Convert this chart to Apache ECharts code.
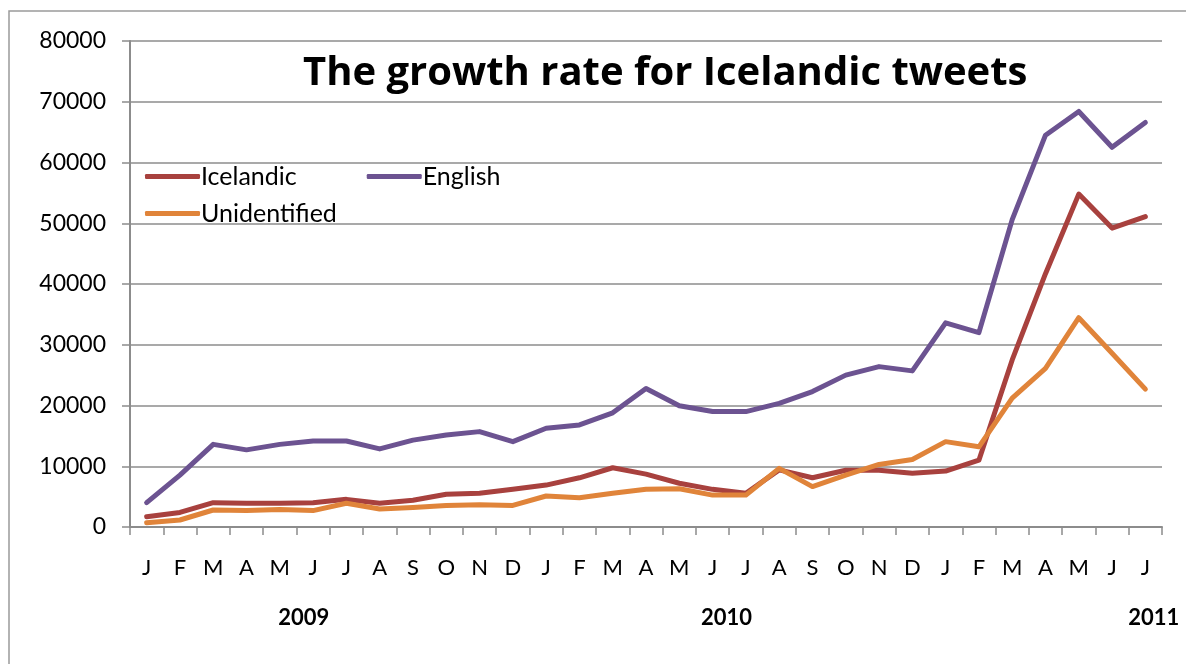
<!DOCTYPE html>
<html>
<head>
<meta charset="utf-8">
<style>
  html, body { margin: 0; padding: 0; background: #fff; }
  #chart { width: 1186px; height: 664px; }
</style>
<script src="https://cdn.jsdelivr.net/npm/echarts@6/dist/echarts.min.js"></script>
</head>
<body>
<div id="chart"></div>
<script>
// Monthly tweet counts, January 2009 to July 2011
const months = ['J','F','M','A','M','J','J','A','S','O','N','D',
                'J','F','M','A','M','J','J','A','S','O','N','D',
                'J','F','M','A','M','J','J'];
const years = ['2009', '2010', '2011'];

const icelandic = [1700, 2400, 4000, 3900, 3900, 4000, 4550, 3900, 4400, 5400, 5550, 6200,
                   6900, 8100, 9750, 8700, 7200, 6200, 5550, 9400, 8100, 9350, 9350, 8850,
                   9200, 11000, 27500, 41700, 54800, 49200, 51100];
const english = [4000, 8550, 13600, 12700, 13600, 14150, 14150, 12850, 14300, 15150, 15700, 14050,
                 16250, 16800, 18800, 22800, 19950, 19000, 19000, 20350, 22300, 25000, 26400, 25700,
                 33600, 32000, 50600, 64500, 68400, 62500, 66600];
const unidentified = [700, 1150, 2800, 2700, 2900, 2700, 3900, 2950, 3200, 3550, 3650, 3550,
                      5100, 4800, 5550, 6200, 6300, 5250, 5250, 9650, 6650, 8550, 10300, 11100,
                      14050, 13200, 21200, 26100, 34450, 28600, 22700];

const yTicks = { min: 0, max: 80000, interval: 10000 };

const FONT = 'Lato, "Open Sans", sans-serif';
const GRID_GRAY = '#8c8c8c';

const chart = echarts.init(document.getElementById('chart'), null, { renderer: 'canvas' });

const lineSeries = (name, data, color) => ({
  name, type: 'line', data,
  symbol: 'none',
  lineStyle: { width: 5, color, cap: 'round', join: 'round' },
  itemStyle: { color },
  emphasis: { disabled: true },
  animation: false
});

const legendText = { fontFamily: FONT, fontSize: 25, color: '#000', padding: [0, 0, 0, -4] };

chart.setOption({
  backgroundColor: '#fff',
  animation: false,
  color: ['#A8413E', '#6C5391', '#E0843A'],
  title: {
    text: 'The growth rate for Icelandic tweets',
    left: 303, top: 54,
    padding: 0,
    textStyle: { fontFamily: '"Open Sans", Lato, sans-serif', fontWeight: 'bold', fontSize: 40, color: '#000' }
  },
  legend: [
    {
      data: ['Icelandic', 'English'],
      left: 145, top: 164,
      padding: 0,
      orient: 'horizontal',
      itemGap: 70,
      itemWidth: 55, itemHeight: 5,
      icon: 'roundRect',
      textStyle: legendText,
      selectedMode: false
    },
    {
      data: ['Unidentified'],
      left: 145, top: 201,
      padding: 0,
      itemWidth: 55, itemHeight: 5,
      icon: 'roundRect',
      textStyle: legendText,
      selectedMode: false
    }
  ],
  grid: { left: 130, right: 24, top: 41, bottom: 137, containLabel: false },
  xAxis: {
    type: 'category',
    data: months,
    boundaryGap: true,
    axisLine: { lineStyle: { color: GRID_GRAY, width: 2 } },
    axisTick: { show: true, length: 8, lineStyle: { color: GRID_GRAY, width: 1.5 } },
    axisLabel: { interval: 0, margin: 30, fontFamily: FONT, fontSize: 22, color: '#000' },
    splitLine: { show: false }
  },
  yAxis: {
    type: 'value',
    min: yTicks.min, max: yTicks.max, interval: yTicks.interval,
    axisLine: { show: true, lineStyle: { color: GRID_GRAY, width: 2 } },
    axisTick: { show: true, length: 8, lineStyle: { color: GRID_GRAY, width: 1.5 } },
    axisLabel: {
      margin: 24, fontFamily: FONT, fontSize: 23, color: '#000',
      formatter: v => String(v)
    },
    splitLine: { show: true, lineStyle: { color: GRID_GRAY, width: 1.5 } }
  },
  series: [
    lineSeries('Icelandic', icelandic, '#A8413E'),
    lineSeries('English', english, '#6C5391'),
    lineSeries('Unidentified', unidentified, '#E0843A')
  ]
});

// Year captions under the month axis and the outer chart frame
function drawExtras() {
  // Caption centres, in category units along the month axis
  const yearCentres = [4.72, 17.42, 30.25];
  const p0 = chart.convertToPixel({ xAxisIndex: 0 }, 0);
  const p1 = chart.convertToPixel({ xAxisIndex: 0 }, 1);
  const step = p1 - p0;
  const elements = [{
    type: 'rect',
    shape: { x: 9, y: 11, width: 1300, height: 800 },
    style: { fill: 'none', stroke: '#9a9a9a', lineWidth: 1.5 },
    silent: true, z: -10
  }];
  years.forEach((y, i) => {
    elements.push({
      type: 'text',
      x: p0 + step * yearCentres[i], y: 618,
      style: {
        text: y, fill: '#000',
        font: 'bold 22px ' + FONT,
        textAlign: 'center', textVerticalAlign: 'middle'
      },
      silent: true
    });
  });
  chart.setOption({ graphic: elements });
}
drawExtras();
</script>
</body>
</html>
